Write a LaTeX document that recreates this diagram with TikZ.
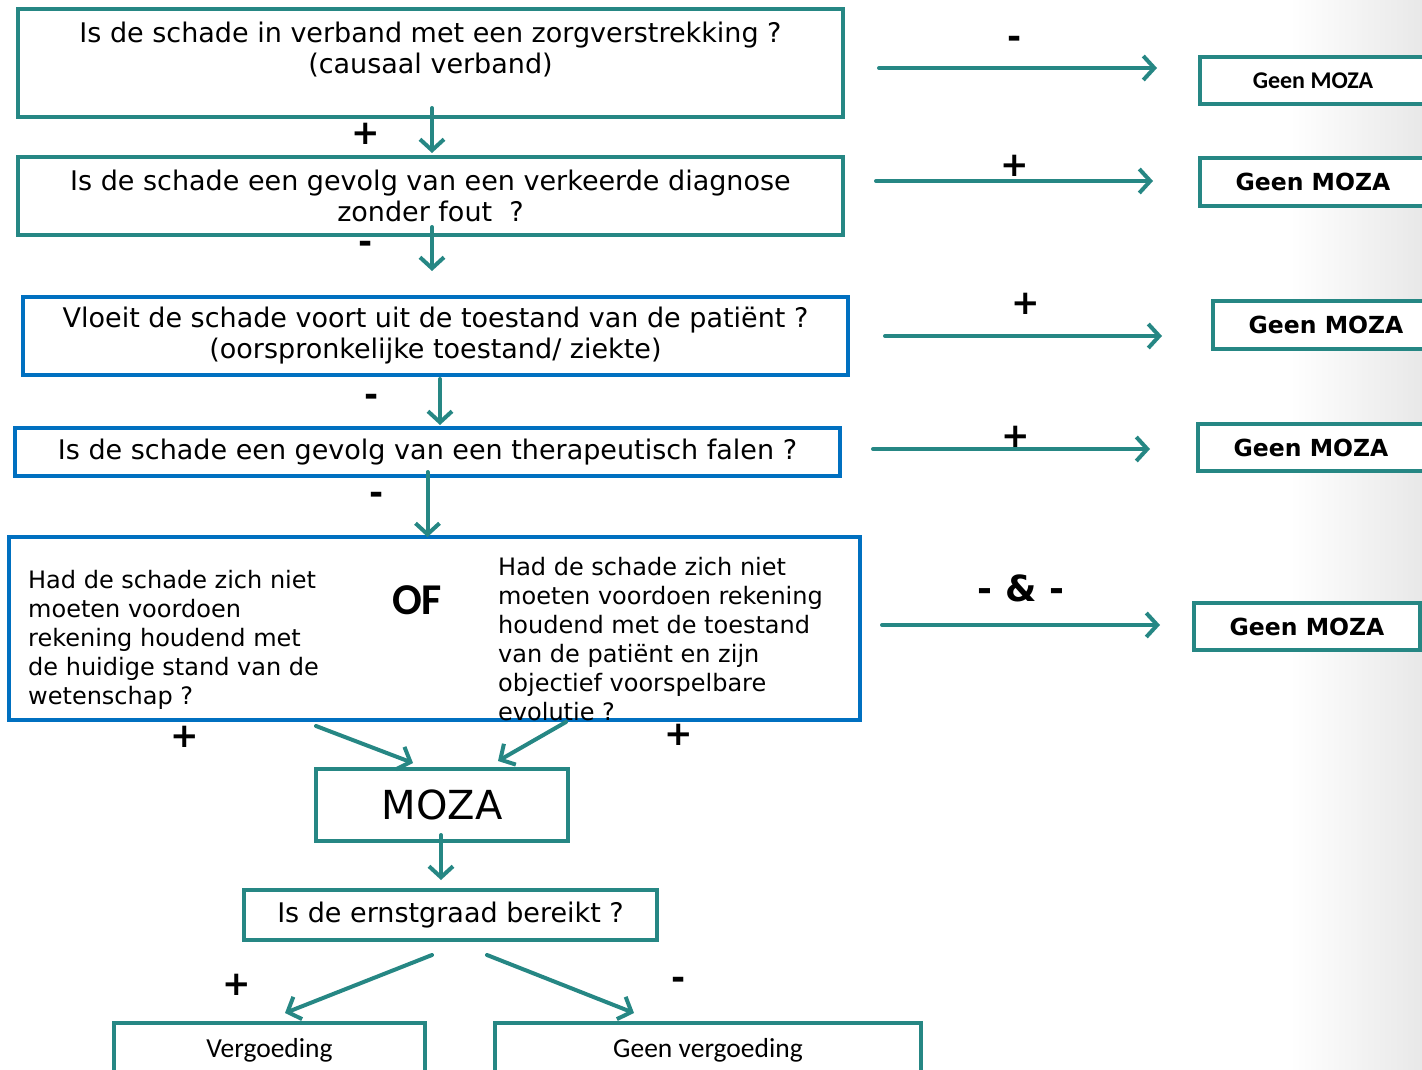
\documentclass[tikz,border=0pt]{standalone}
\usepackage{fontspec}
\setmainfont{DejaVu Sans}
\newfontfamily\calibri{Carlito}
\usetikzlibrary{arrows.meta}
\definecolor[named]{MozaTeal}{RGB}{38,135,132}
\definecolor[named]{MozaBlue}{RGB}{0,112,192}
\newcommand{\qsize}{\fontsize{27}{31}\selectfont}
\tikzset{
  qbox/.style={draw=MozaTeal,fill=white,line width=4pt,inner sep=0pt,outer sep=0pt,align=center,font=\qsize},
  bqbox/.style={qbox,draw=MozaBlue},
  endbox/.style={qbox,minimum width=226,font=\fontsize{23.5}{23.5}\selectfont\bfseries},
  flow/.style={MozaTeal,line width=4pt,line cap=round,-{Straight Barb[length=11pt,width=24pt,line width=4pt]}},
  sign/.style={text=black,inner sep=0pt,font=\fontsize{34}{34}\selectfont\bfseries},
}

\begin{document}
\begin{tikzpicture}[x=1pt,y=1pt]
    \useasboundingbox (0,0) rectangle (1422,-1070);
    \clip (0,0) rectangle (1422,-1070);

    % slide background tint on the right
    \shade[left color=white,right color=black!9] (1290,0) rectangle (1422,-1070);

    % Questions
    \node[qbox,minimum width=825,minimum height=108] (q1) at (430.5,-63)
      {Is de schade in verband met een zorgverstrekking ?\\(causaal verband)\\~};
    \node[qbox,minimum width=825,minimum height=78] (q2) at (430.5,-196)
      {Is de schade een gevolg van een verkeerde diagnose\\zonder fout\ \ ?};
    \node[bqbox,minimum width=825,minimum height=78] (q3) at (435.5,-336)
      {Vloeit de schade voort uit de toestand van de patiënt ?\\(oorspronkelijke toestand/ ziekte)};
    \node[bqbox,minimum width=825,minimum height=48] (q4) at (427.5,-452)
      {Is de schade een gevolg van een therapeutisch falen ?};
    \node[bqbox,minimum width=851,minimum height=183] (q5) at (434.5,-628.5) {};
    \begin{scope}[every node/.style={align=left,inner sep=0pt,font=\fontsize{24}{29}\selectfont}]
      \node[anchor=north west] (q5l) at (28,-570)
        {Had de schade zich niet\\moeten voordoen\\rekening houdend met\\de huidige stand van de\\wetenschap ?};
      \node[anchor=north west] (q5r) at (498,-557)
        {Had de schade zich niet\\moeten voordoen rekening\\houdend met de toestand\\van de patiënt en zijn\\objectief voorspelbare\\evolutie ?};
    \end{scope}
    \node[inner sep=0pt,font=\calibri\fontsize{44}{44}\selectfont\bfseries] (of) at (417,-600) {OF};

    \node[qbox,minimum width=252,minimum height=72,font=\fontsize{40}{40}\selectfont] (moza) at (442,-805) {MOZA};
    \node[qbox,minimum width=413,minimum height=50] (ernst) at (450.5,-915) {Is de ernstgraad bereikt ?};
    \node[qbox,minimum width=311,minimum height=54,font=\calibri\fontsize{27.5}{27.5}\selectfont] (verg) at (269.5,-1050) {Vergoeding};
    \node[qbox,minimum width=426,minimum height=54,font=\calibri\fontsize{27.5}{27.5}\selectfont] (gverg) at (708,-1050) {Geen vergoeding};

    % Geen MOZA column
    \node[endbox,minimum height=47,font=\calibri\fontsize{24}{24}\selectfont\bfseries] (g1) at (1313,-80.5) {Geen MOZA};
    \node[endbox,minimum height=48] (g2) at (1313,-182) {Geen MOZA};
    \node[endbox,minimum height=48] (g3) at (1326,-325) {Geen MOZA};
    \node[endbox,minimum height=47] (g4) at (1311,-447.5) {Geen MOZA};
    \node[endbox,minimum height=47] (g5) at (1307,-626.5) {Geen MOZA};

    % free ends of the side arrows
    \coordinate (s1) at (879,-68);  \coordinate (e1) at (1157,-68);
    \coordinate (s2) at (876,-181); \coordinate (e2) at (1153,-181);
    \coordinate (s3) at (885,-336); \coordinate (e3) at (1162,-336);
    \coordinate (s4) at (873,-449); \coordinate (e4) at (1150,-449);
    \coordinate (s5) at (882,-625); \coordinate (e5) at (1160,-625);

    \draw[flow] (s1) -- (e1) node[sign,midway,xshift=-3,yshift=26] {-};
    \draw[flow] (s2) -- (e2) node[sign,midway,yshift=15] {+};
    \draw[flow] (s3) -- (e3) node[sign,midway,xshift=2,yshift=32] {+};
    \draw[flow] (s4) -- (e4) node[sign,midway,xshift=4,yshift=12] {+};
    \draw[flow] (s5) -- (e5) node[sign,midway,yshift=37,font=\fontsize{36}{36}\selectfont\bfseries] {- \& -};

    % Main column
    \draw[flow] ([xshift=1.5,yshift=9]q1.south) -- ([xshift=1.5,yshift=4]q2.north);
    \draw[flow] ([xshift=1.5,yshift=8]q2.south) -- ([xshift=1.5,yshift=26]q2.south |- q3.north);
    \draw[flow] ([xshift=4.5,yshift=-4]q3.south) -- ([xshift=4.5,yshift=3]q3.south |- q4.north);
    \draw[flow] ([yshift=4]q4.south) -- (q4.south |- q5.north);
    \draw[flow] ([xshift=-118.5,yshift=-6]q5.south) -- ([xshift=-29,yshift=6]moza.north);
    \draw[flow] ([xshift=131.5,yshift=-2]q5.south) -- ([xshift=56,yshift=8]moza.north);
    \draw[flow] ([xshift=-1,yshift=6]moza.south) -- ([xshift=-9.5,yshift=10]ernst.north);
    \draw[flow] ([xshift=-18.5,yshift=-15]ernst.south) -- ([xshift=15.5,yshift=10]verg.north);
    \draw[flow] ([xshift=36.5,yshift=-15]ernst.south) -- ([xshift=-74,yshift=10]gverg.north);

    % Signs of the main column
    \begin{scope}[every node/.style={sign}]
      \node (p1) at (366,-134) {+};
      \node (m1) at (366,-247) {-};
      \node (m2) at (372,-400) {-};
      \node (m3) at (377,-498) {-};
      \node (p2) at (185,-737) {+};
      \node (p3) at (679,-735) {+};
      \node (p4) at (237,-985) {+};
      \node (m4) at (679,-983) {-};
    \end{scope}
\end{tikzpicture}
\end{document}
